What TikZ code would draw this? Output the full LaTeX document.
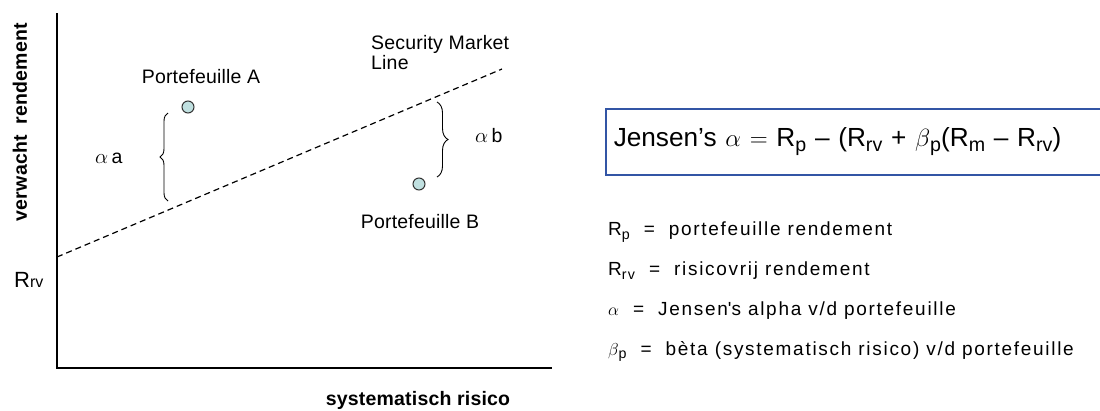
\documentclass[tikz,border=0pt]{standalone}
\usepackage{fontspec}
\setmainfont{Liberation Sans}
\newfontfamily\chartfont[LetterSpace=1]{Liberation Sans}
\newfontfamily\legendfont[LetterSpace=9]{Liberation Sans}
\usepackage{tikz}
\usetikzlibrary{positioning,decorations.pathreplacing}

\definecolor{dotfill}{RGB}{192,224,224}
\definecolor{boxblue}{RGB}{50,85,165}
\newcommand{\lowsub}[1]{\raisebox{-0.35ex}{\scalebox{0.75}{#1}}}

\begin{document}
\begin{tikzpicture}[x=1pt, y=-1pt,
  axis/.style={line width=1.5pt},
  sml/.style={line width=1.2pt, dash pattern=on 6pt off 4pt},
  lbl/.style={font=\fontsize{19.5}{20}\selectfont\chartfont},
  axislbl/.style={font=\fontsize{19.5}{20}\selectfont\chartfont\bfseries},
  dot/.style={circle, draw=black!80, fill=dotfill, line width=1pt, minimum size=12pt, inner sep=0pt},
  gap/.style={decorate, decoration={brace, amplitude=#1}, line width=0.9pt}]
  \useasboundingbox (0,0) rectangle (1100,410);

  % Axes
  \coordinate (ytop) at (57,13);
  \coordinate (origin) at (57,368);
  \coordinate (xend) at (552,368);
  \draw[axis] (ytop) -- (origin) -- (xend);
  \node[axislbl, rotate=90] (ylbl) at (20,122) {verwacht\ \ rendement};
  \node[axislbl, anchor=base] (xlbl) at (418,405) {systematisch risico};
  \node[font=\fontsize{22}{22}\selectfont, anchor=base west, inner sep=0pt] (rrv) at (14,287) {R{\fontsize{16}{16}\selectfont rv}};

  % Security Market Line
  \coordinate (smlstart) at (57,257);
  \coordinate (smlend) at (502,69);
  \draw[sml] (smlstart) -- (smlend);
  \node[lbl, anchor=north west, align=left, inner sep=0pt] (smllbl) at (371,35) {Security Market\\Line};

  % Portefeuille A
  \node[dot] (pa) at (188,107) {};
  \node[lbl, anchor=base] (palbl) at (201,83) {Portefeuille A};
  \coordinate (atop) at (168,113);
  \coordinate (abot) at (168,201);
  \draw[gap=8pt] (abot) -- (atop);
  \node[lbl, anchor=base west, inner sep=0pt] (alphaa) at (95,163) {$\alpha$\,a};

  % Portefeuille B
  \node[dot] (pb) at (419,184) {};
  \node[lbl, anchor=base] (pblbl) at (420,228) {Portefeuille B};
  \coordinate (btop) at (437,102);
  \coordinate (bbot) at (437,177);
  \draw[gap=11pt] (btop) -- (bbot);
  \node[lbl, anchor=base west, inner sep=0pt] (alphab) at (475,142) {$\alpha$\,b};

  % Jensen formula
  \node[draw=boxblue, line width=1.5pt, anchor=north west, minimum width=510pt, minimum height=66pt,
        inner xsep=8pt, text width=494pt, align=left, font=\fontsize{26.2}{27}\selectfont] (jensen) at (605,108)
    {Jensen’s $\alpha$ $=$ R\lowsub{p} – (R\lowsub{rv} + $\beta$\lowsub{p}(R\lowsub{m} – R\lowsub{rv})};

  % Legend
  \node[anchor=base west, align=left, inner sep=0pt, font=\fontsize{19}{39.7}\selectfont\legendfont] (legend) at (608,355)
    {R\lowsub{p}\ \ =\ \ portefeuille rendement\\
     R\lowsub{rv}\ \ =\ \ risicovrij rendement\\
     $\alpha$\ \ =\ \ Jensen\textquotesingle s alpha v/d portefeuille\\
     $\beta$\lowsub{p}\ \ =\ \ bèta (systematisch risico) v/d portefeuille};
\end{tikzpicture}
\end{document}
